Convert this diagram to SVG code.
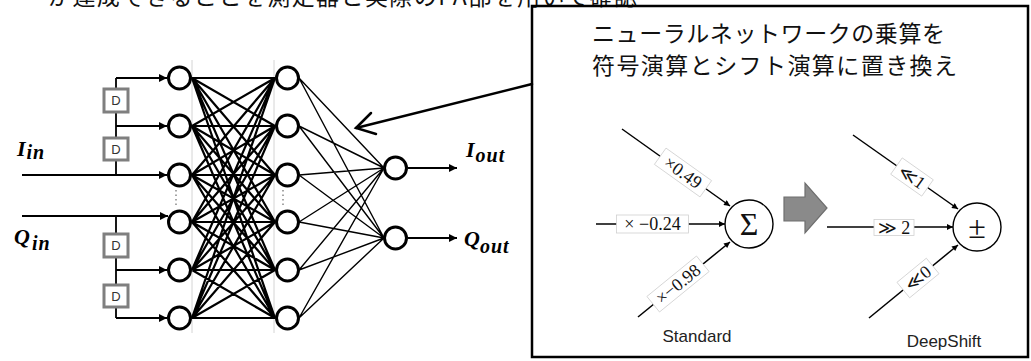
<svg xmlns="http://www.w3.org/2000/svg" width="1031" height="361" viewBox="0 0 1031 361">
<style>
.node{fill:#fff;stroke:#000;stroke-width:3}
.dbox{fill:#fff;stroke:#7f7f7f;stroke-width:3}
.dtxt{font-family:"Liberation Sans",Arial,sans-serif;font-size:13px;fill:#333;text-anchor:middle}
.math{font-family:"Liberation Serif","Times New Roman",serif;font-weight:bold;font-style:italic;font-size:22px;fill:#000}
.jp{font-family:"Noto Sans CJK JP","Noto Sans",sans-serif;font-size:23px;fill:#111}
.wire{fill:none;stroke:#000;stroke-width:2.2}
.thin{fill:none;stroke:#000;stroke-width:1.4}
.lbl rect{fill:#fff;stroke:#d0d0d0;stroke-width:0.8}
.lbl text{font-family:"Liberation Serif","DejaVu Serif",serif;font-size:18px;fill:#111;text-anchor:middle;dominant-baseline:central}
.cap{font-family:"Liberation Sans",Arial,sans-serif;font-size:17px;fill:#222;text-anchor:middle}
.op{fill:#fff;stroke:#000;stroke-width:1.4}
.opt{font-family:"Liberation Serif","Times New Roman",serif;font-size:32px;fill:#111;text-anchor:middle}
</style>
<defs>
<marker id="ah" viewBox="0 0 10 10" refX="10" refY="5" markerWidth="9" markerHeight="8" markerUnits="userSpaceOnUse" orient="auto"><path d="M0,0 L10,5 L0,10 z" fill="#000"/></marker>
<marker id="ahs" viewBox="0 0 10 10" refX="10" refY="5" markerWidth="8" markerHeight="6" markerUnits="userSpaceOnUse" orient="auto"><path d="M0,0 L10,5 L0,10 z" fill="#000"/></marker>
</defs>
<rect width="1031" height="361" fill="#fff"/>

<g id="top-text">
<text class="jp" x="48" y="5" font-size="24" textLength="589" lengthAdjust="spacing">が達成できることを測定器と実際のPA部を用いて確認</text>
</g>

<g id="guides" stroke="#d4d4d4" stroke-width="1">
<line x1="192" y1="60" x2="192" y2="333"/>
<line x1="274" y1="60" x2="274" y2="333"/>
</g>

<g id="connectors">
<path class="wire" d="M192,78 L275,78 M192,78 L275,126 M192,78 L275,175 M192,78 L275,222 M192,78 L275,270 M192,78 L275,318
M192,126 L275,78 M192,126 L275,126 M192,126 L275,175 M192,126 L275,222 M192,126 L275,270 M192,126 L275,318
M192,175 L275,78 M192,175 L275,126 M192,175 L275,175 M192,175 L275,222 M192,175 L275,270 M192,175 L275,318
M192,222 L275,78 M192,222 L275,126 M192,222 L275,175 M192,222 L275,222 M192,222 L275,270 M192,222 L275,318
M192,270 L275,78 M192,270 L275,126 M192,270 L275,175 M192,270 L275,222 M192,270 L275,270 M192,270 L275,318
M192,318 L275,78 M192,318 L275,126 M192,318 L275,175 M192,318 L275,222 M192,318 L275,270 M192,318 L275,318"/>
<path class="thin" d="M299,78 L384,168 M299,126 L384,168 M299,175 L384,168 M299,222 L384,168 M299,270 L384,168 M299,318 L384,168
M299,78 L384,238 M299,126 L384,238 M299,175 L384,238 M299,222 L384,238 M299,270 L384,238 M299,318 L384,238"/>
<g fill="none" stroke="#000" stroke-width="1.8">
<line x1="22" y1="175" x2="167" y2="175" marker-end="url(#ah)"/>
<line x1="22" y1="216" x2="168" y2="216" marker-end="url(#ah)"/>
<line x1="116" y1="78" x2="167" y2="78" marker-end="url(#ah)"/>
<line x1="116" y1="126" x2="167" y2="126" marker-end="url(#ah)"/>
<line x1="116" y1="270" x2="167" y2="270" marker-end="url(#ah)"/>
<line x1="116" y1="318" x2="167" y2="318" marker-end="url(#ah)"/>
<path d="M116,78 V89 M116,112 V138 M116,160 V175 M116,216 V234 M116,257 V285 M116,307 V318"/>
<line x1="408" y1="168" x2="457" y2="168" marker-end="url(#ah)"/>
<line x1="408" y1="238" x2="457" y2="238" marker-end="url(#ah)"/>
</g>
<g fill="none" stroke="#000" stroke-width="2.5" stroke-linecap="round">
<line x1="532" y1="84" x2="356" y2="128"/>
<polyline points="371,113 356,128 376,134"/>
</g>
<g fill="none" stroke="#000" stroke-width="1.5">
<line x1="622" y1="129" x2="730" y2="206" marker-end="url(#ahs)"/>
<line x1="596" y1="224" x2="725" y2="224" marker-end="url(#ahs)"/>
<line x1="638" y1="317" x2="730" y2="242" marker-end="url(#ahs)"/>
<line x1="853" y1="135" x2="958" y2="209" marker-end="url(#ahs)"/>
<line x1="827" y1="227" x2="953" y2="227" marker-end="url(#ahs)"/>
<line x1="869" y1="318" x2="958" y2="245" marker-end="url(#ahs)"/>
</g>
</g>

<g id="dots" stroke="#888" stroke-width="1.5" stroke-dasharray="1.5 3">
<line x1="176" y1="190" x2="176" y2="207"/>
<line x1="283" y1="190" x2="283" y2="206"/>
</g>

<g id="d1"><rect class="dbox" x="104" y="89" width="24" height="23"/><text class="dtxt" x="116" y="105">D</text></g>
<g id="d2"><rect class="dbox" x="104" y="138" width="24" height="22"/><text class="dtxt" x="116" y="154">D</text></g>
<g id="d3"><rect class="dbox" x="104" y="234" width="24" height="23"/><text class="dtxt" x="116" y="250">D</text></g>
<g id="d4"><rect class="dbox" x="104" y="285" width="24" height="22"/><text class="dtxt" x="116" y="301">D</text></g>

<g id="in1"><circle class="node" cx="179.5" cy="78" r="11"/></g>
<g id="in2"><circle class="node" cx="179.5" cy="126" r="11"/></g>
<g id="in3"><circle class="node" cx="179.5" cy="175" r="11"/></g>
<g id="in4"><circle class="node" cx="179.5" cy="222" r="11"/></g>
<g id="in5"><circle class="node" cx="179.5" cy="270" r="11"/></g>
<g id="in6"><circle class="node" cx="179.5" cy="318" r="11"/></g>
<g id="h1"><circle class="node" cx="287.5" cy="78" r="11"/></g>
<g id="h2"><circle class="node" cx="287.5" cy="126" r="11"/></g>
<g id="h3"><circle class="node" cx="287.5" cy="175" r="11"/></g>
<g id="h4"><circle class="node" cx="287.5" cy="222" r="11"/></g>
<g id="h5"><circle class="node" cx="287.5" cy="270" r="11"/></g>
<g id="h6"><circle class="node" cx="287.5" cy="318" r="11"/></g>
<g id="out1"><circle class="node" cx="395.5" cy="168" r="11"/></g>
<g id="out2"><circle class="node" cx="395.5" cy="238" r="11"/></g>

<g id="label-iin"><text class="math" x="17" y="156">I<tspan font-size="20" dy="3" dx="1" letter-spacing="1">in</tspan></text></g>
<g id="label-qin"><text class="math" x="14" y="244">Q<tspan font-size="20" dy="6" dx="2" letter-spacing="1">in</tspan></text></g>
<g id="label-iout"><text class="math" x="466" y="157">I<tspan font-size="20" dy="5" dx="1" letter-spacing="1">out</tspan></text></g>
<g id="label-qout"><text class="math" x="464" y="246">Q<tspan font-size="20" dy="7" letter-spacing="1">out</tspan></text></g>

<g id="panel">
<rect x="532" y="6" width="496" height="351" fill="none" stroke="#000" stroke-width="2.5"/>
<text class="jp" x="592" y="42" textLength="353" lengthAdjust="spacing">ニューラルネットワークの乗算を</text>
<text class="jp" x="592" y="74" textLength="365" lengthAdjust="spacing">符号演算とシフト演算に置き換え</text>
</g>

<g id="sum"><circle class="op" cx="749" cy="224" r="24"/><text class="opt" x="749" y="235">Σ</text></g>
<g id="pm"><circle class="op" cx="977" cy="227" r="24"/><text class="opt" x="977" y="238">±</text></g>

<g id="w1" class="lbl" transform="translate(683,172.5) rotate(35.5)"><rect x="-28" y="-10" width="56" height="20"/><text x="0" y="0">×0.49</text></g>
<g id="w2" class="lbl" transform="translate(652.5,224)"><rect x="-36" y="-9" width="72" height="18"/><text x="0" y="0">× −0.24</text></g>
<g id="w3" class="lbl" transform="translate(678,284) rotate(-39.2)"><rect x="-32" y="-10" width="64" height="20"/><text x="0" y="0">×−0.98</text></g>
<g id="s1" class="lbl" transform="translate(912,177) rotate(35.2)"><rect x="-19" y="-10" width="38" height="20"/><text x="0" y="0">≪1</text></g>
<g id="s2" class="lbl" transform="translate(894,227.5)"><rect x="-20" y="-8" width="40" height="16"/><text x="0" y="0">≫ 2</text></g>
<g id="s3" class="lbl" transform="translate(918,278) rotate(-39.4)"><rect x="-19" y="-10" width="38" height="20"/><text x="0" y="0">≪0</text></g>

<g id="shift-arrow"><polygon points="784,197 805,197 805,183 827,208 805,233 805,221 784,221" fill="#8a8a8a" stroke="#6e6e6e" stroke-width="1.2"/></g>

<g id="cap-standard"><text class="cap" x="697" y="342">Standard</text></g>
<g id="cap-deepshift"><text class="cap" x="944" y="347">DeepShift</text></g>
</svg>
